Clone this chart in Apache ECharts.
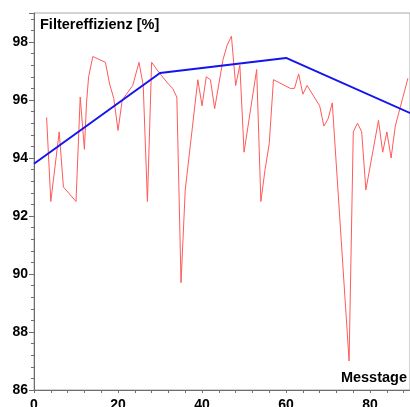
<!DOCTYPE html>
<html>
<head>
<meta charset="utf-8">
<script src="https://cdn.jsdelivr.net/npm/echarts@6/dist/echarts.min.js"></script>
<style>html,body{margin:0;padding:0;background:#fff}#c{width:410px;height:407px}</style>
</head>
<body>
<div id="c"></div>
<script>
// Messtage (x) and Filtereffizienz (y) of the measured series
const redX = [3, 4, 6, 7, 10, 11, 12, 12.5, 13, 14, 17, 18, 19, 20, 21, 22, 23.5, 25, 26, 27, 28, 30, 32, 33, 34, 35, 36, 39, 40, 41, 42, 43, 45, 46, 47, 48, 49, 50, 53, 54, 55, 56, 57, 61, 62, 63, 64, 65, 68, 69, 70, 71, 75, 76, 77, 78, 79, 82, 83, 84, 85, 86, 89];
const redY = [95.4, 92.5, 94.9, 93.0, 92.5, 96.1, 94.3, 95.9, 96.8, 97.5, 97.3, 96.55, 96.05, 94.95, 96.0, 96.2, 96.5, 97.3, 96.5, 92.5, 97.3, 96.9, 96.55, 96.4, 96.1, 89.7, 92.9, 96.7, 95.8, 96.8, 96.7, 95.7, 97.4, 97.9, 98.2, 96.5, 97.2, 94.2, 97.05, 92.5, 93.6, 94.5, 96.7, 96.4, 96.4, 96.9, 96.2, 96.5, 95.8, 95.1, 95.35, 95.9, 87.0, 94.9, 95.2, 94.9, 92.9, 95.3, 94.2, 94.9, 94.0, 95.1, 96.75];
// trend line
const blueX = [0, 30, 60, 90];
const blueY = [93.8, 96.93, 97.45, 95.52];
// axis ticks
const yTicks = [86, 88, 90, 92, 94, 96, 98];
const xTicks = [0, 20, 40, 60, 80];

const chart = echarts.init(document.getElementById('c'), null, {renderer: 'canvas'});
const font = 'Liberation Sans, Arial, sans-serif';
const axisCol = '#6e6e6e';
chart.setOption({
  animation: false,
  backgroundColor: '#fff',
  grid: {left: 34, right: 0, top: 13, bottom: 17, show: true, borderColor: '#a8a8a8', borderWidth: 1,
         containLabel: false, outerBoundsMode: 'none'},
  title: {
    text: 'Filtereffizienz [%]', left: 40, top: 17, padding: 0,
    textStyle: {fontSize: 14.5, fontWeight: 'bold', color: '#000', fontFamily: font}
  },
  graphic: [{
    type: 'text', right: 3, top: 370,
    style: {text: 'Messtage', font: 'bold 14.5px ' + font, fill: '#000'}
  }],
  xAxis: {
    type: 'value', min: xTicks[0], max: 89.5, interval: 20,
    axisLine: {lineStyle: {color: axisCol, width: 1}},
    axisTick: {show: true, length: 3, lineStyle: {color: axisCol}},
    minorTick: {show: true, splitNumber: 5, length: 3, lineStyle: {color: axisCol}},
    splitLine: {show: false},
    axisLabel: {
      margin: 8, showMaxLabel: false, color: '#000', fontSize: 14, fontWeight: 'bold', fontFamily: font,
      formatter: v => xTicks.includes(v) ? String(v) : ''
    }
  },
  yAxis: {
    type: 'value', min: yTicks[0], max: 99, interval: 2,
    axisLine: {show: true, lineStyle: {color: axisCol, width: 1}},
    axisTick: {show: true, length: 5, lineStyle: {color: axisCol}},
    minorTick: {show: true, splitNumber: 5, length: 3, lineStyle: {color: axisCol}},
    splitLine: {show: false},
    axisLabel: {
      margin: 6, showMaxLabel: false, color: '#000', fontSize: 14, fontWeight: 'bold', fontFamily: font,
      formatter: v => yTicks.includes(v) ? String(v) : ''
    }
  },
  series: [
    {
      type: 'line', data: redX.map((x, i) => [x, redY[i]]),
      showSymbol: false, symbol: 'none',
      lineStyle: {color: '#ff5a5a', width: 1}, z: 2
    },
    {
      type: 'line', data: blueX.map((x, i) => [x, blueY[i]]),
      showSymbol: false, symbol: 'none',
      lineStyle: {color: '#1414ee', width: 2}, z: 3
    }
  ]
});
</script>
</body>
</html>
